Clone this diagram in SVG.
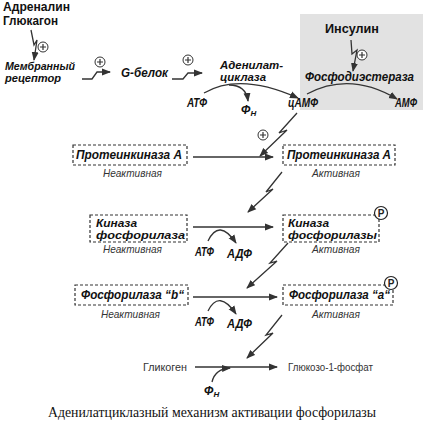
<svg xmlns="http://www.w3.org/2000/svg" width="423" height="429" viewBox="0 0 423 429">
<defs>
<marker id="ah" markerWidth="9" markerHeight="8" refX="8" refY="4" orient="auto" markerUnits="userSpaceOnUse">
<path d="M0,0.5 L9,4 L0,7.5 Z" fill="#333"/>
</marker>
<g id="plus">
<circle cx="0" cy="0" r="5" fill="#fff" stroke="#333" stroke-width="1"/>
<path d="M-3,0 H3 M0,-3 V3" stroke="#333" stroke-width="1.2"/>
</g>
<g id="pc">
<circle cx="0" cy="0" r="6.5" fill="#fff" stroke="#222" stroke-width="1.2"/>
<text x="0" y="3.5" text-anchor="middle" font-family="Liberation Sans, Arial, sans-serif" font-weight="bold" font-size="10" fill="#222">P</text>
</g>
</defs>
<style>
.h{font-family:"Liberation Sans",Arial,sans-serif;font-weight:bold;font-size:12px;fill:#111}
.bi{font-family:"Liberation Sans",Arial,sans-serif;font-weight:bold;font-style:italic;font-size:12px;fill:#111}
.b2{font-family:"Liberation Sans",Arial,sans-serif;font-weight:bold;font-style:italic;font-size:11px;fill:#111}
.st{font-family:"Liberation Sans",Arial,sans-serif;font-style:italic;font-size:11.5px;fill:#333}
.rg{font-family:"Liberation Sans",Arial,sans-serif;font-size:11.5px;fill:#333}
.cap{font-family:"Liberation Serif","Times New Roman",serif;font-size:14px;fill:#111}
.box{fill:#fff;stroke:#333;stroke-width:1.2;stroke-dasharray:3 2}
.ln{fill:none;stroke:#333;stroke-width:1.3}
</style>
<rect x="300" y="14" width="123" height="96" fill="#e2e2e2"/>

<g id="connectors">
<path class="ln" d="M31,30 L34,45 L37,40 L34,60" marker-end="url(#ah)"/>
<path class="ln" d="M82,79 L92,79 L97,72 L110,72" marker-end="url(#ah)"/>
<path class="ln" d="M172,79 L183,79 L188,73 L202,73" marker-end="url(#ah)"/>
<path class="ln" d="M351,40 L352,54 L357,50 L353,71" marker-end="url(#ah)"/>
<path class="ln" d="M204,93 Q240,72 298,98" marker-end="url(#ah)"/>
<path class="ln" d="M229,85 Q246,85 248,101" marker-end="url(#ah)"/>
<path class="ln" d="M307,94 Q350,71 397,99" marker-end="url(#ah)"/>
<path class="ln" d="M297,113 L279,133 L287,130 L260,156" marker-end="url(#ah)"/>
<path class="ln" d="M193,157 L273,157" marker-end="url(#ah)"/>
<path class="ln" d="M282,172 L266,192 L273,189 L248,212" marker-end="url(#ah)"/>
<path class="ln" d="M193,227 L273,227" marker-end="url(#ah)"/>
<path class="ln" d="M208,241 Q219,218 236,243" marker-end="url(#ah)"/>
<path class="ln" d="M288,243 L270,263 L277,261 L247,288" marker-end="url(#ah)"/>
<path class="ln" d="M193,297 L277,297" marker-end="url(#ah)"/>
<path class="ln" d="M208,311 Q219,289 236,314" marker-end="url(#ah)"/>
<path class="ln" d="M282,315 L266,335 L273,333 L247,358" marker-end="url(#ah)"/>
<path class="ln" d="M195,367 L277,367" marker-end="url(#ah)"/>
<path class="ln" d="M212,382 Q215,369 230,368" marker-end="url(#ah)"/>
</g>

<g id="signals">
<use href="#plus" x="43" y="47"/>
<use href="#plus" x="100" y="62"/>
<use href="#plus" x="188" y="60"/>
<use href="#plus" x="362" y="55"/>
<use href="#plus" x="263" y="135"/>
</g>

<g id="hormones">
<text class="h" x="3" y="11" textLength="67" lengthAdjust="spacingAndGlyphs">Адреналин</text>
<text class="h" x="3" y="25" textLength="55" lengthAdjust="spacingAndGlyphs">Глюкагон</text>
</g>
<g id="receptor">
<text class="b2" x="5" y="70" textLength="70" lengthAdjust="spacingAndGlyphs">Мембранный</text>
<text class="b2" x="5" y="82" textLength="56" lengthAdjust="spacingAndGlyphs">рецептор</text>
</g>
<g id="gprotein"><text class="bi" x="121" y="77" textLength="47" lengthAdjust="spacingAndGlyphs">G-белок</text></g>
<g id="cyclase">
<text class="b2" x="220" y="69" textLength="63" lengthAdjust="spacingAndGlyphs">Аденилат-</text>
<text class="b2" x="220" y="81" textLength="46" lengthAdjust="spacingAndGlyphs">циклаза</text>
</g>
<g id="atp1"><text class="bi" x="187" y="107" textLength="20" lengthAdjust="spacingAndGlyphs">АТФ</text></g>
<g id="pn1"><text class="bi" x="241" y="114">Ф<tspan font-size="8" dy="2">Н</tspan></text></g>
<g id="camp"><text class="bi" x="288" y="107" textLength="30" lengthAdjust="spacingAndGlyphs">цАМФ</text></g>
<g id="insulin"><text class="h" x="325" y="33" textLength="54" lengthAdjust="spacingAndGlyphs">Инсулин</text></g>
<g id="pde"><text class="bi" x="305" y="81" textLength="109" lengthAdjust="spacingAndGlyphs">Фосфодиэстераза</text></g>
<g id="amp"><text class="bi" x="395" y="107" textLength="22" lengthAdjust="spacingAndGlyphs">АМФ</text></g>

<g id="pka-in">
<rect class="box" x="73" y="145" width="114" height="20"/>
<text class="bi" x="76" y="159" textLength="106" lengthAdjust="spacingAndGlyphs">Протеинкиназа А</text>
<text class="st" x="103" y="177" textLength="59" lengthAdjust="spacingAndGlyphs">Неактивная</text>
</g>
<g id="pka-act">
<rect class="box" x="283" y="145" width="112" height="20"/>
<text class="bi" x="287" y="159" textLength="104" lengthAdjust="spacingAndGlyphs">Протеинкиназа А</text>
<text class="st" x="312" y="177" textLength="48" lengthAdjust="spacingAndGlyphs">Активная</text>
</g>

<g id="kin-in">
<rect class="box" x="90" y="215" width="97" height="27"/>
<text class="b2" x="96" y="227" textLength="41" lengthAdjust="spacingAndGlyphs">Киназа</text>
<text class="b2" x="96" y="239" textLength="89" lengthAdjust="spacingAndGlyphs">фосфорилаза</text>
<text class="st" x="103" y="253" textLength="59" lengthAdjust="spacingAndGlyphs">Неактивная</text>
</g>
<g id="kin-act">
<rect class="box" x="283" y="215" width="96" height="27"/>
<text class="b2" x="288" y="227" textLength="41" lengthAdjust="spacingAndGlyphs">Киназа</text>
<text class="b2" x="288" y="239" textLength="89" lengthAdjust="spacingAndGlyphs">фосфорилазы</text>
<text class="st" x="312" y="253" textLength="48" lengthAdjust="spacingAndGlyphs">Активная</text>
<use href="#pc" x="381" y="213"/>
</g>
<g id="atp2"><text class="bi" x="195" y="256" textLength="19" lengthAdjust="spacingAndGlyphs">АТФ</text></g>
<g id="adp2"><text class="bi" x="227" y="258" textLength="25" lengthAdjust="spacingAndGlyphs">АДФ</text></g>

<g id="ph-in">
<rect class="box" x="75" y="285" width="113" height="20"/>
<text class="bi" x="81" y="299" textLength="103" lengthAdjust="spacingAndGlyphs">Фосфорилаза “b“</text>
<text class="st" x="101" y="318" textLength="59" lengthAdjust="spacingAndGlyphs">Неактивная</text>
</g>
<g id="ph-act">
<rect class="box" x="283" y="285" width="110" height="20"/>
<text class="bi" x="289" y="299" textLength="101" lengthAdjust="spacingAndGlyphs">Фосфорилаза “a“</text>
<text class="st" x="312" y="318" textLength="48" lengthAdjust="spacingAndGlyphs">Активная</text>
<use href="#pc" x="391" y="283"/>
</g>
<g id="atp3"><text class="bi" x="195" y="326" textLength="19" lengthAdjust="spacingAndGlyphs">АТФ</text></g>
<g id="adp3"><text class="bi" x="227" y="328" textLength="25" lengthAdjust="spacingAndGlyphs">АДФ</text></g>

<g id="glycogen"><text class="rg" x="143" y="371" textLength="44" lengthAdjust="spacingAndGlyphs">Гликоген</text></g>
<g id="g1p"><text class="rg" x="288" y="371" textLength="85" lengthAdjust="spacingAndGlyphs">Глюкозо-1-фосфат</text></g>
<g id="pn2"><text class="bi" x="204" y="395">Ф<tspan font-size="8" dy="2">Н</tspan></text></g>

<text class="cap" x="48" y="417" textLength="328" lengthAdjust="spacingAndGlyphs">Аденилатциклазный механизм активации фосфорилазы</text>
</svg>
